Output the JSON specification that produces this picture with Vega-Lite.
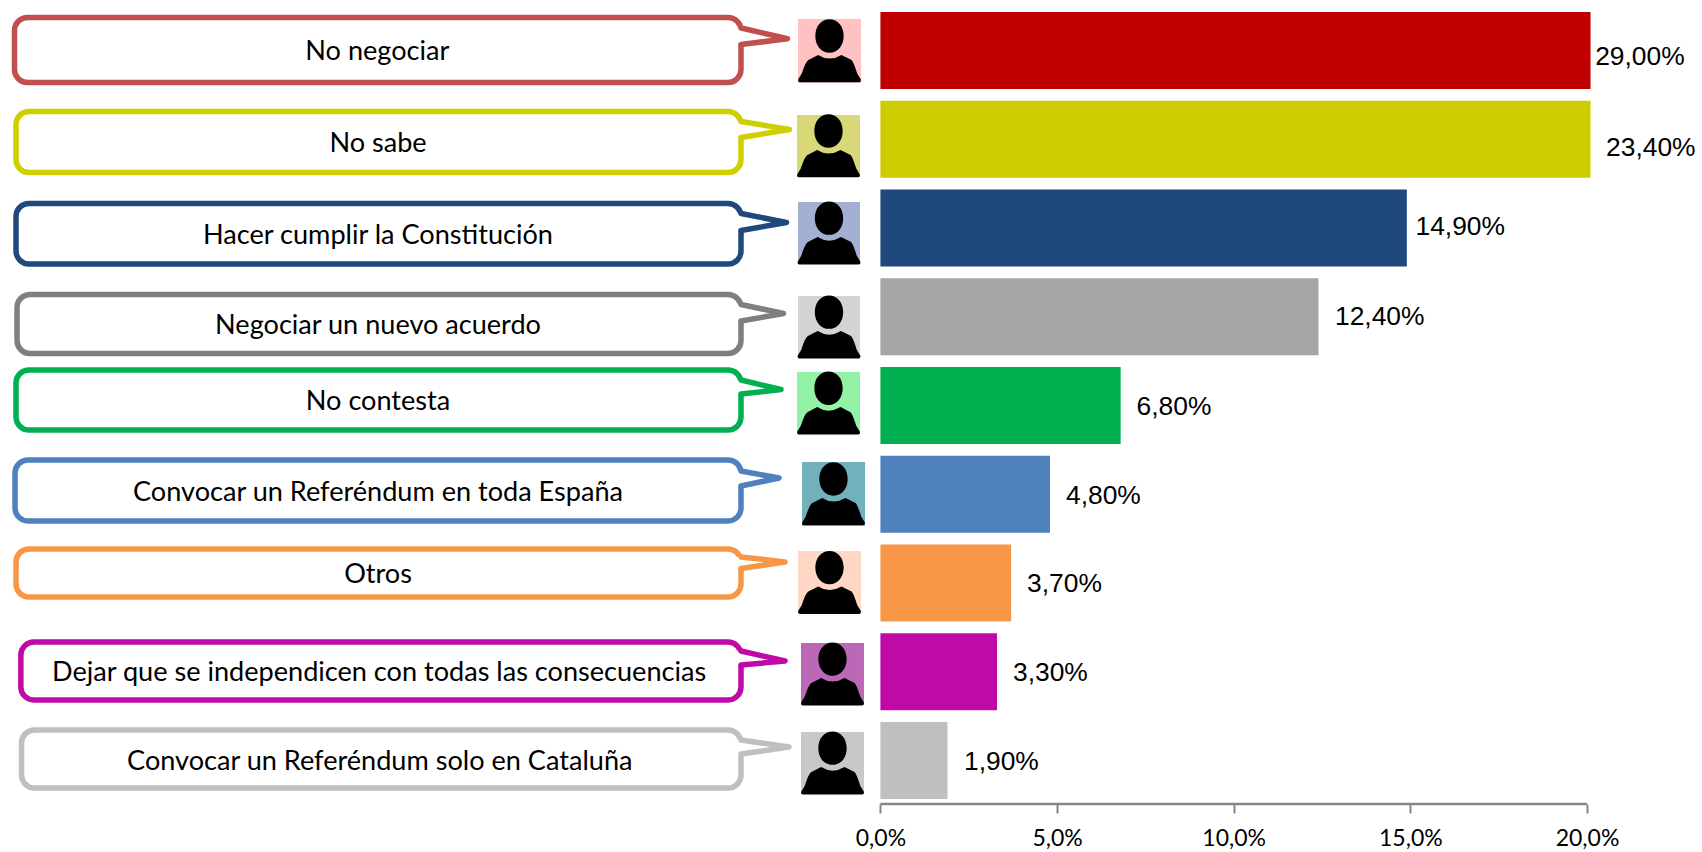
{"$schema":"https://vega.github.io/schema/vega-lite/v6.json","width":1702,"height":852,"padding":0,"autosize":"none","background":"white","view":{"stroke":null},
"datasets":{
"barras":[
{"categoria":"No negociar","valor":29.0,"fin":20.1,"y0":-0.434,"y1":0.434,"etiqueta":"29,00%","ex":20.23,"ey":0.075},
{"categoria":"No sabe","valor":23.4,"fin":20.1,"y0":0.566,"y1":1.434,"etiqueta":"23,40%","ex":20.54,"ey":1.1},
{"categoria":"Hacer cumplir la Constitución","valor":14.9,"fin":14.9,"y0":1.566,"y1":2.434,"etiqueta":"14,90%","ex":15.145,"ey":1.99},
{"categoria":"Negociar un nuevo acuerdo","valor":12.4,"fin":12.4,"y0":2.566,"y1":3.434,"etiqueta":"12,40%","ex":12.867,"ey":3.005},
{"categoria":"No contesta","valor":6.8,"fin":6.8,"y0":3.566,"y1":4.434,"etiqueta":"6,80%","ex":7.25,"ey":4.019},
{"categoria":"Convocar un Referéndum en toda España","valor":4.8,"fin":4.8,"y0":4.566,"y1":5.434,"etiqueta":"4,80%","ex":5.253,"ey":5.021},
{"categoria":"Otros","valor":3.7,"fin":3.7,"y0":5.566,"y1":6.434,"etiqueta":"3,70%","ex":4.15,"ey":6.013},
{"categoria":"Dejar que se independicen con todas las consecuencias","valor":3.3,"fin":3.3,"y0":6.566,"y1":7.434,"etiqueta":"3,30%","ex":3.752,"ey":7.016},
{"categoria":"Convocar un Referéndum solo en Cataluña","valor":1.9,"fin":1.9,"y0":7.566,"y1":8.434,"etiqueta":"1,90%","ex":2.366,"ey":8.019}],
"globos":[
{"categoria":"No negociar","x0":-24.51,"top":-0.372,"bottom":0.361,"up":-0.254,"low":-0.068,"tx":-14.24,"ty":0.016},
{"categoria":"No sabe","x0":-24.467,"top":0.687,"bottom":1.375,"up":0.8,"low":0.98,"tx":-14.22,"ty":1.052},
{"categoria":"Hacer cumplir la Constitución","x0":-24.467,"top":1.724,"bottom":2.406,"up":1.837,"low":2.028,"tx":-14.22,"ty":2.095},
{"categoria":"Negociar un nuevo acuerdo","x0":-24.438,"top":2.749,"bottom":3.414,"up":2.862,"low":3.048,"tx":-14.22,"ty":3.1},
{"categoria":"No contesta","x0":-24.467,"top":3.6,"bottom":4.276,"up":3.713,"low":3.87,"tx":-14.22,"ty":3.966},
{"categoria":"Convocar un Referéndum en toda España","x0":-24.495,"top":4.614,"bottom":5.301,"up":4.738,"low":4.907,"tx":-14.22,"ty":4.981},
{"categoria":"Otros","x0":-24.467,"top":5.617,"bottom":6.158,"up":5.707,"low":5.837,"tx":-14.22,"ty":5.909},
{"categoria":"Dejar que se independicen con todas las consecuencias","x0":-24.33,"top":6.665,"bottom":7.318,"up":6.766,"low":6.924,"tx":-14.19,"ty":7.013},
{"categoria":"Convocar un Referéndum solo en Cataluña","x0":-24.31,"top":7.656,"bottom":8.31,"up":7.769,"low":7.927,"tx":-14.17,"ty":8.016}],
"colas":[
{"categoria":"No negociar","orden":1,"x":-3.946,"y":-0.254},{"categoria":"No negociar","orden":2,"x":-2.63,"y":-0.133},{"categoria":"No negociar","orden":3,"x":-3.946,"y":-0.068},
{"categoria":"No sabe","orden":1,"x":-3.946,"y":0.8},{"categoria":"No sabe","orden":2,"x":-2.573,"y":0.89},{"categoria":"No sabe","orden":3,"x":-3.946,"y":0.98},
{"categoria":"Hacer cumplir la Constitución","orden":1,"x":-3.946,"y":1.837},{"categoria":"Hacer cumplir la Constitución","orden":2,"x":-2.658,"y":1.938},{"categoria":"Hacer cumplir la Constitución","orden":3,"x":-3.946,"y":2.028},
{"categoria":"Negociar un nuevo acuerdo","orden":1,"x":-3.946,"y":2.862},{"categoria":"Negociar un nuevo acuerdo","orden":2,"x":-2.743,"y":2.963},{"categoria":"Negociar un nuevo acuerdo","orden":3,"x":-3.946,"y":3.048},
{"categoria":"No contesta","orden":1,"x":-3.946,"y":3.713},{"categoria":"No contesta","orden":2,"x":-2.814,"y":3.82},{"categoria":"No contesta","orden":3,"x":-3.946,"y":3.87},
{"categoria":"Convocar un Referéndum en toda España","orden":1,"x":-3.946,"y":4.738},{"categoria":"Convocar un Referéndum en toda España","orden":2,"x":-2.87,"y":4.817},{"categoria":"Convocar un Referéndum en toda España","orden":3,"x":-3.946,"y":4.907},
{"categoria":"Otros","orden":1,"x":-3.946,"y":5.707},{"categoria":"Otros","orden":2,"x":-2.7,"y":5.763},{"categoria":"Otros","orden":3,"x":-3.946,"y":5.837},
{"categoria":"Dejar que se independicen con todas las consecuencias","orden":1,"x":-3.946,"y":6.766},{"categoria":"Dejar que se independicen con todas las consecuencias","orden":2,"x":-2.7,"y":6.879},{"categoria":"Dejar que se independicen con todas las consecuencias","orden":3,"x":-3.946,"y":6.924},
{"categoria":"Convocar un Referéndum solo en Cataluña","orden":1,"x":-3.946,"y":7.769},{"categoria":"Convocar un Referéndum solo en Cataluña","orden":2,"x":-2.587,"y":7.848},{"categoria":"Convocar un Referéndum solo en Cataluña","orden":3,"x":-3.946,"y":7.927}],
"avatares":[
{"categoria":"No negociar","x0":-2.332,"x1":-0.549,"y0":-0.355,"y1":0.363,"cx":-1.441,"cy":0.004},
{"categoria":"No sabe","x0":-2.361,"x1":-0.578,"y0":0.727,"y1":1.422,"cx":-1.469,"cy":1.074},
{"categoria":"Hacer cumplir la Constitución","x0":-2.332,"x1":-0.578,"y0":1.707,"y1":2.406,"cx":-1.455,"cy":2.056},
{"categoria":"Negociar un nuevo acuerdo","x0":-2.332,"x1":-0.578,"y0":2.766,"y1":3.465,"cx":-1.455,"cy":3.115},
{"categoria":"No contesta","x0":-2.361,"x1":-0.578,"y0":3.623,"y1":4.321,"cx":-1.469,"cy":3.972},
{"categoria":"Convocar un Referéndum en toda España","x0":-2.219,"x1":-0.436,"y0":4.637,"y1":5.354,"cx":-1.328,"cy":4.995},
{"categoria":"Otros","x0":-2.332,"x1":-0.549,"y0":5.639,"y1":6.346,"cx":-1.441,"cy":5.993},
{"categoria":"Dejar que se independicen con todas las consecuencias","x0":-2.248,"x1":-0.465,"y0":6.676,"y1":7.371,"cx":-1.356,"cy":7.024},
{"categoria":"Convocar un Referéndum solo en Cataluña","x0":-2.248,"x1":-0.465,"y0":7.679,"y1":8.377,"cx":-1.356,"cy":8.028}],
"eje":[{"desde":0,"hasta":20,"pos":8.49}]
},
"layer":[
{"data":{"name":"barras"},"mark":{"type":"rect"},"encoding":{
"x":{"field":"fin","type":"quantitative","scale":{"domain":[-24.92,23.255],"nice":false,"zero":false},"axis":{"title":null,"values":[0,5,10,15,20],"domain":false,"grid":false,"offset":-48,"tickSize":9,"tickWidth":2,"tickColor":"#868686","labelFont":"Lato","labelFontSize":23,"labelColor":"#000000","labelPadding":14,"labelExpr":"replace(format(datum.value,'.1f'),'.',',')+'%'"}},
"x2":{"datum":0},
"y":{"field":"y0","type":"quantitative","scale":{"domain":[-0.569,9.031],"nice":false,"zero":false,"reverse":true},"axis":null},
"y2":{"field":"y1"},
"fill":{"field":"categoria","type":"nominal","legend":null,"scale":{"domain":["No negociar","No sabe","Hacer cumplir la Constitución","Negociar un nuevo acuerdo","No contesta","Convocar un Referéndum en toda España","Otros","Dejar que se independicen con todas las consecuencias","Convocar un Referéndum solo en Cataluña"],"range":["#C00000","#CCCC00","#1F497D","#A6A6A6","#00B050","#4F81BD","#F79646","#C00AA8","#BFBFBF"]}}}},
{"data":{"name":"eje"},"mark":{"type":"rule","strokeWidth":2.5,"color":"#868686"},"encoding":{"x":{"field":"desde","type":"quantitative"},"x2":{"field":"hasta"},"y":{"field":"pos","type":"quantitative","axis":null}}},
{"data":{"name":"barras"},"mark":{"type":"text","align":"left","baseline":"middle","font":"Liberation Sans","fontSize":26.4,"color":"#000000"},"encoding":{"x":{"field":"ex","type":"quantitative"},"y":{"field":"ey","type":"quantitative","axis":null},"text":{"field":"etiqueta"}}},
{"data":{"name":"globos"},"mark":{"type":"rect","fill":"#FFFFFF","strokeWidth":5.5,"cornerRadius":13},"encoding":{"x":{"field":"x0","type":"quantitative"},"x2":{"datum":-3.946},"y":{"field":"top","type":"quantitative","axis":null},"y2":{"field":"bottom"},
"stroke":{"field":"categoria","type":"nominal","legend":null,"scale":{"domain":["No negociar","No sabe","Hacer cumplir la Constitución","Negociar un nuevo acuerdo","No contesta","Convocar un Referéndum en toda España","Otros","Dejar que se independicen con todas las consecuencias","Convocar un Referéndum solo en Cataluña"],"range":["#C0504D","#CFCF00","#1F497D","#7F7F7F","#00B050","#4F81BD","#F79646","#C00AA8","#BFBFBF"]}}}},
{"data":{"name":"globos"},"mark":{"type":"rect","fill":"#FFFFFF"},"encoding":{"x":{"datum":-4.06,"type":"quantitative"},"x2":{"datum":-3.83},"y":{"field":"up","type":"quantitative","axis":null},"y2":{"field":"low"}}},
{"data":{"name":"colas"},"mark":{"type":"line","strokeWidth":5.5,"strokeCap":"round","strokeJoin":"round"},"encoding":{"x":{"field":"x","type":"quantitative"},"y":{"field":"y","type":"quantitative","axis":null},"order":{"field":"orden"},"stroke":{"field":"categoria","type":"nominal","legend":null}}},
{"data":{"name":"globos"},"mark":{"type":"text","align":"center","baseline":"middle","font":"Lato","fontSize":27.1,"color":"#000000"},"encoding":{"x":{"field":"tx","type":"quantitative"},"y":{"field":"ty","type":"quantitative","axis":null},"text":{"field":"categoria"}}},
{"data":{"name":"avatares"},"mark":{"type":"rect"},"encoding":{"x":{"field":"x0","type":"quantitative"},"x2":{"field":"x1"},"y":{"field":"y0","type":"quantitative","axis":null},"y2":{"field":"y1"},
"color":{"field":"categoria","type":"nominal","legend":null,"scale":{"domain":["No negociar","No sabe","Hacer cumplir la Constitución","Negociar un nuevo acuerdo","No contesta","Convocar un Referéndum en toda España","Otros","Dejar que se independicen con todas las consecuencias","Convocar un Referéndum solo en Cataluña"],"range":["#FFC1C1","#D8D878","#A3B0D3","#D3D3D3","#92F2A5","#72B1BC","#FFD7C4","#BB69B6","#C8C8C8"]}}}},
{"data":{"name":"avatares"},"mark":{"type":"point","filled":true,"opacity":1,"fill":"#000000","stroke":null,"size":3969,"shape":"M0,-1 C0.26,-1 0.45,-0.78 0.45,-0.47 C0.45,-0.16 0.26,0.06 0,0.06 C-0.26,0.06 -0.45,-0.16 -0.45,-0.47 C-0.45,-0.78 -0.26,-1 0,-1 Z M-0.36,0.13 Q0,0.36 0.38,0.13 L0.7,0.29 Q0.76,0.34 0.88,0.72 L1,0.92 Q1,1 0.94,1 L-0.94,1 Q-1,1 -1,0.92 L-0.88,0.72 Q-0.76,0.34 -0.67,0.29 Z"},"encoding":{"x":{"field":"cx","type":"quantitative"},"y":{"field":"cy","type":"quantitative","axis":null}}}
]}
